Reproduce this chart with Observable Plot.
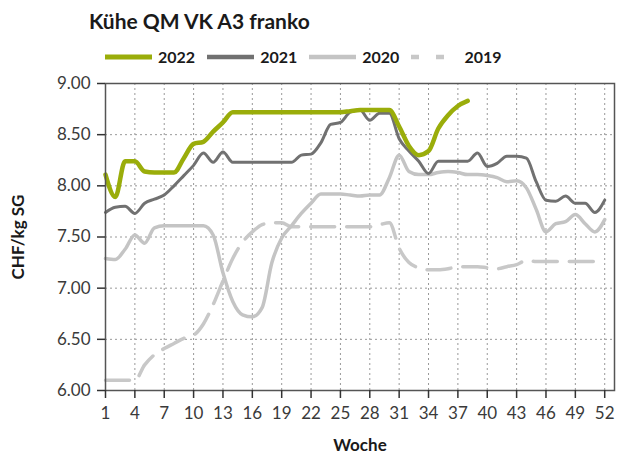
<!DOCTYPE html>
<html>
<head>
<meta charset="utf-8">
<script src="https://cdn.jsdelivr.net/npm/d3@7"></script>
<script src="https://cdn.jsdelivr.net/npm/@observablehq/plot@0.6"></script>
<style>
  body { margin: 0; background: #fff; font-family: Lato, "Open Sans", sans-serif; }
  #wrap { position: relative; width: 626px; height: 459px; }
  #title { position: absolute; left: 89px; top: 10px; font-size: 21px; font-weight: bold; color: #1a1a1a; line-height: 1; white-space: nowrap; }
  #legend { position: absolute; left: 105px; top: 49px; display: flex; align-items: center; font-size: 16px; font-weight: bold; color: #1a1a1a; line-height: 1; }
  .item { display: flex; align-items: center; margin-right: 12px; }
  .item svg { margin-right: 6px; }
  #chart { position: absolute; left: 0; top: 70px; }
  g[aria-label="x-axis label"] text, g[aria-label="y-axis label"] text { font-weight: bold; fill: #1a1a1a; font-size: 17px; }
</style>
</head>
<body>
<div id="wrap">
  <div id="title">Kühe QM VK A3 franko</div>
  <div id="legend"></div>
  <div id="chart"></div>
</div>
<script>
const weeks = d3.range(1, 53);
const xTicks = [1, 4, 7, 10, 13, 16, 19, 22, 25, 28, 31, 34, 37, 40, 43, 46, 49, 52];
const yTicks = [6.0, 6.5, 7.0, 7.5, 8.0, 8.5, 9.0];

const v2022 = [8.11, 7.89, 8.24, 8.24, 8.14, 8.13, 8.13, 8.13, 8.27, 8.41,
               8.43, 8.53, 8.62, 8.72, 8.72, 8.72, 8.72, 8.72, 8.72, 8.72,
               8.72, 8.72, 8.72, 8.72, 8.72, 8.73, 8.74, 8.74, 8.74, 8.74,
               8.58, 8.39, 8.30, 8.34, 8.56, 8.69, 8.78, 8.83];
const v2021 = [7.74, 7.79, 7.80, 7.73, 7.83, 7.87, 7.91, 8.00, 8.10, 8.20,
               8.32, 8.23, 8.33, 8.23, 8.23, 8.23, 8.23, 8.23, 8.23, 8.23,
               8.30, 8.31, 8.42, 8.60, 8.62, 8.72, 8.74, 8.64, 8.71, 8.71,
               8.46, 8.34, 8.24, 8.12, 8.24, 8.24, 8.24, 8.24, 8.32, 8.19,
               8.22, 8.29, 8.29, 8.27, 8.04, 7.86, 7.85, 7.90, 7.83, 7.83,
               7.74, 7.86];
const v2020 = [7.29, 7.28, 7.38, 7.52, 7.44, 7.59, 7.61, 7.61, 7.61, 7.61,
               7.61, 7.52, 7.15, 6.87, 6.74, 6.72, 6.81, 7.25, 7.49, 7.61,
               7.73, 7.83, 7.92, 7.92, 7.92, 7.91, 7.90, 7.91, 7.91, 8.08,
               8.30, 8.14, 8.11, 8.11, 8.13, 8.14, 8.13, 8.11, 8.11, 8.10,
               8.08, 8.04, 8.05, 7.98, 7.77, 7.55, 7.63, 7.65, 7.72, 7.63,
               7.55, 7.67];
const v2019 = [6.10, 6.10, 6.10, 6.10, 6.25, 6.35, 6.41, 6.46, 6.51, 6.54,
               6.65, 6.84, 7.07, 7.29, 7.45, 7.55, 7.62, 7.64, 7.64, 7.60,
               7.60, 7.60, 7.60, 7.60, 7.60, 7.60, 7.60, 7.60, 7.62, 7.64,
               7.39, 7.25, 7.20, 7.18, 7.18, 7.19, 7.21, 7.21, 7.21, 7.20,
               7.19, 7.21, 7.23, 7.27, 7.26, 7.26, 7.26, 7.26, 7.26, 7.26,
               7.26, 7.26];

const series = [
  {name: "2022", values: v2022, color: "#9aad0a", width: 4.5, dash: null, legendDash: null},
  {name: "2021", values: v2021, color: "#717171", width: 3, dash: null, legendDash: null},
  {name: "2020", values: v2020, color: "#c4c4c4", width: 3.5, dash: null, legendDash: null},
  {name: "2019", values: v2019, color: "#c8c8c8", width: 3.5, dash: "24,12", legendDash: "8,17"}
];

function rows(s) {
  return s.values.map((v, i) => ({week: weeks[i], value: v}));
}

// legend
const legend = document.getElementById("legend");
for (const s of series) {
  const item = document.createElement("div");
  item.className = "item";
  const w = 47;
  item.innerHTML = `<svg width="${w}" height="8"><line x1="0" x2="${w}" y1="4" y2="4" stroke="${s.color}" stroke-width="${s.name === "2022" ? 5 : 4.5}" ${s.legendDash ? `stroke-dasharray="${s.legendDash}"` : ""}/></svg><span>${s.name}</span>`;
  legend.appendChild(item);
}

const lineMarks = series.slice().reverse().map(s =>
  Plot.line(rows(s), {
    x: "week", y: "value",
    stroke: s.color, strokeWidth: s.width,
    strokeDasharray: s.dash || undefined,
    curve: "monotone-x"
  })
);

const chart = Plot.plot({
  width: 626,
  height: 389,
  marginTop: 13,
  marginLeft: 105,
  marginRight: 12,
  marginBottom: 69,
  style: {fontFamily: "Lato, 'Open Sans', sans-serif", fontSize: "17px", color: "#3a3a3a", background: "#fff"},
  x: {domain: [1, 53]},
  y: {domain: [6, 9]},
  marks: [
    Plot.gridX(xTicks.slice(1), {stroke: "#999", strokeOpacity: 1, strokeDasharray: "2,3"}),
    Plot.gridY(yTicks.slice(1, -1), {stroke: "#999", strokeOpacity: 1, strokeDasharray: "2,3"}),
    ...lineMarks,
    Plot.frame({stroke: "#555", strokeWidth: 1.5}),
    Plot.axisX(xTicks, {
      tickSize: 8, tickPadding: 8, stroke: "#333", strokeWidth: 1.5,
      tickFormat: d => String(d), fontSize: 17, fill: "#3a3a3a",
      label: "Woche", labelAnchor: "center", labelArrow: "none", labelOffset: 60
    }),
    Plot.axisY(yTicks, {
      tickSize: 8, tickPadding: 7, stroke: "#333", strokeWidth: 1.5,
      tickFormat: d => d.toFixed(2), fontSize: 17, fill: "#3a3a3a",
      label: "CHF/kg SG", labelAnchor: "center", labelArrow: "none", labelOffset: 94
    })
  ]
});
document.getElementById("chart").appendChild(chart);
</script>
</body>
</html>
